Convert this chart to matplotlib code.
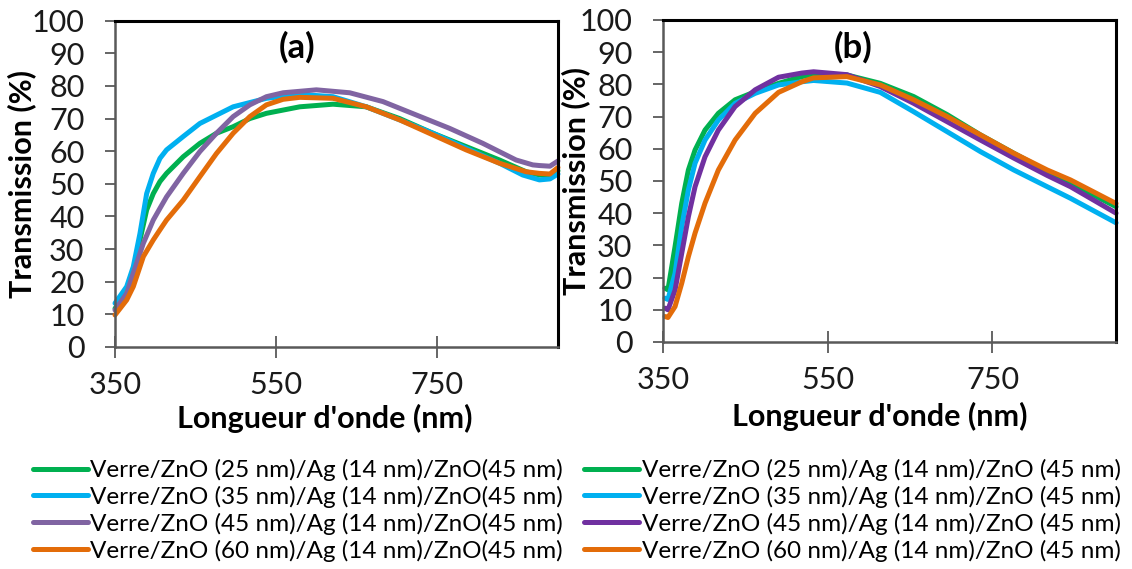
import matplotlib.pyplot as plt

plt.rcParams['font.family'] = ['Lato', 'DejaVu Sans']

# ---- panel (a) data (wavelength nm, transmission %) ----
a_green_x = [350, 364.5, 372.7, 381, 389.3, 397.5, 405.8, 414, 434.7, 455.4, 476, 496.7, 517.4, 538, 579.4,
             620.7, 662, 703.4, 744.7, 786, 827.4, 860.4, 877, 890, 900]
a_green_y = [11.8, 16.4, 22.6, 32.8, 42, 47, 50.7, 53.2, 58.3, 62.4, 65.5, 67.5, 70, 71.6, 73.6,
             74.4, 73.6, 70, 65.5, 61.4, 57.3, 53.7, 52.7, 52.5, 54]

a_cyan_x = [350, 364.5, 372.7, 381, 389.3, 397.5, 405.8, 414, 434.7, 455.4, 496.7, 538, 579.4,
            620.7, 662, 703.4, 744.7, 786, 827.4, 856.3, 877, 890, 900]
a_cyan_y = [13.4, 18.5, 24.6, 34.8, 47, 53.2, 57.8, 60.4, 64.5, 68.5, 73.6, 76.2, 77.4,
            76.7, 73.6, 69.6, 65.5, 60.9, 56.3, 52.7, 51.2, 51.5, 53]

a_purple_x = [350, 364.5, 372.7, 385.2, 397.5, 405.8, 414, 434.7, 455.4, 476, 496.7, 517.4, 538, 558.7,
              600, 641.4, 682.7, 724, 765.4, 806.7, 848, 868.7, 877, 890, 900]
a_purple_y = [11.3, 16.4, 22.6, 31.8, 38.9, 42.5, 46, 53.2, 59.9, 65.5, 70.6, 74.2, 76.7, 77.9,
              78.8, 77.9, 75.2, 71.1, 67, 62.4, 57.3, 55.8, 55.6, 55.4, 57]

a_orange_x = [350, 364.5, 372.7, 385.2, 397.5, 405.8, 414, 434.7, 455.4, 476, 496.7, 517.4, 538, 558.7,
              579.4, 620.7, 662, 703.4, 744.7, 786, 827.4, 860.4, 877, 890, 900]
a_orange_y = [9.8, 14.4, 18.5, 27.7, 32.8, 35.9, 38.9, 45, 52.2, 59.3, 65.5, 70.6, 74.2, 75.9,
              76.5, 76.2, 73.6, 69.6, 65, 60.4, 56.3, 53.7, 53.2, 53, 55]

# ---- panel (b) data ----
b_green_x = [352.4, 356, 364.6, 372.7, 380.8, 388.9, 401, 417.2, 437.5, 461.9, 490.2, 518.6,
             532.8, 573.3, 613.8, 654.3, 694.9, 735.4, 775.9, 816.5, 844.8, 900]
b_green_y = [16.7, 16.2, 29.6, 43, 53.4, 59.6, 65.8, 71, 75.2, 77.7, 80.3, 82.4,
             83, 82.9, 80.3, 76.2, 70.6, 64.3, 58.6, 53, 49.3, 42]

b_cyan_x = [352.4, 356, 364.6, 372.7, 380.8, 388.9, 401, 417.2, 437.5, 461.9, 490.2, 518.6,
            532.8, 573.3, 613.8, 654.3, 694.9, 735.4, 775.9, 816.5, 844.8, 900]
b_cyan_y = [13.6, 13.2, 21.3, 35.8, 47.2, 55.5, 62.7, 68.9, 74.1, 77.2, 79.8, 80.8,
            81.2, 80.4, 77.5, 71.5, 65.3, 59.1, 53.4, 48.2, 44.6, 37]

b_purple_x = [352.4, 356, 364.6, 372.7, 380.8, 388.9, 401, 417.2, 437.5, 461.9, 490.2, 518.6,
              532.8, 573.3, 613.8, 654.3, 694.9, 735.4, 775.9, 816.5, 844.8, 900]
b_purple_y = [10.5, 10, 16.1, 27.5, 38.9, 48.2, 57.5, 65.8, 73.1, 78.3, 82.2, 83.5,
              83.9, 83, 79.3, 74.1, 68.4, 62.7, 57.1, 51.7, 48.2, 40]

b_orange_x = [352.4, 356, 364.6, 372.7, 380.8, 388.9, 401, 417.2, 437.5, 461.9, 490.2, 518.6,
              532.8, 573.3, 613.8, 654.3, 694.9, 735.4, 775.9, 816.5, 844.8, 900]
b_orange_y = [7.9, 7.6, 11, 18.2, 26.5, 33.8, 43.1, 53.4, 62.7, 71, 77.5, 80.8,
              82, 82.4, 79.8, 75.2, 70, 64.3, 58.6, 53.4, 50.3, 43]

labels_a = ['Verre/ZnO (25 nm)/Ag (14 nm)/ZnO(45 nm)',
            'Verre/ZnO (35 nm)/Ag (14 nm)/ZnO(45 nm)',
            'Verre/ZnO (45 nm)/Ag (14 nm)/ZnO(45 nm)',
            'Verre/ZnO (60 nm)/Ag (14 nm)/ZnO(45 nm)']
labels_b = ['Verre/ZnO (25 nm)/Ag (14 nm)/ZnO (45 nm)',
            'Verre/ZnO (35 nm)/Ag (14 nm)/ZnO (45 nm)',
            'Verre/ZnO (45 nm)/Ag (14 nm)/ZnO (45 nm)',
            'Verre/ZnO (60 nm)/Ag (14 nm)/ZnO (45 nm)']

colors_a = ['#00B050', '#00B0F0', '#8064A2', '#E36C09']
colors_b = ['#00B050', '#00B0F0', '#7030A0', '#E36C09']

fig = plt.figure(figsize=(11.32, 5.69), dpi=100)
ax_a = fig.add_axes([0.1016, 0.3902, 0.3913, 0.5735])
ax_b = fig.add_axes([0.5857, 0.399, 0.4002, 0.566])


def style_axes(ax, tag, tag_x, tag_y, ylab_x, xlab_x, xlab_y):
    ax.set_xlim(350, 900)
    ax.set_ylim(0, 100)
    ax.set_xticks([350, 550, 750])
    ax.set_yticks(range(0, 101, 10))
    ax.tick_params(axis='x', direction='inout', length=16, width=1.3, colors='#595959',
                   labelcolor='#1a1a1a', labelsize=22, pad=9)
    ax.tick_params(axis='y', direction='out', length=7, width=1.3, colors='#595959',
                   labelcolor='#1a1a1a', labelsize=22, pad=15)
    for s in ['left', 'bottom']:
        ax.spines[s].set_color('#595959')
        ax.spines[s].set_linewidth(1.8)
    for s in ['top', 'right']:
        ax.spines[s].set_color('black')
        ax.spines[s].set_linewidth(2.2)
    ax.set_xlabel("Longueur d'onde (nm)", fontsize=22, fontweight='bold', va='top')
    ax.xaxis.set_label_coords(xlab_x, xlab_y)
    ax.set_ylabel('Transmission (%)', fontsize=22, fontweight='bold')
    ax.yaxis.set_label_coords(ylab_x, 0.5)
    ax.text(tag_x, tag_y, tag, transform=ax.transAxes, ha='center', va='center',
            fontsize=25, fontweight='bold')


lines_a = []
for xs, ys, c, lab in zip([a_green_x, a_cyan_x, a_purple_x, a_orange_x],
                          [a_green_y, a_cyan_y, a_purple_y, a_orange_y], colors_a, labels_a):
    ln, = ax_a.plot(xs, ys, color=c, lw=3.6, label=lab, solid_joinstyle='round',
                    solid_capstyle='round', clip_on=False)
    lines_a.append(ln)

lines_b = []
for xs, ys, c, lab in zip([b_green_x, b_cyan_x, b_purple_x, b_orange_x],
                          [b_green_y, b_cyan_y, b_purple_y, b_orange_y], colors_b, labels_b):
    ln, = ax_b.plot(xs, ys, color=c, lw=3.6, label=lab, solid_joinstyle='round',
                    solid_capstyle='round', clip_on=False)
    lines_b.append(ln)

style_axes(ax_a, '(a)', 0.41, 0.92, -0.178, 0.474, -0.175)
style_axes(ax_b, '(b)', 0.42, 0.916, -0.16, 0.479, -0.185)

leg_kw = dict(loc='center left', frameon=False, fontsize=17.5, handlelength=2.25,
              handletextpad=0.12, labelspacing=0.2, borderpad=0, borderaxespad=0)
fig.legend(handles=lines_a, bbox_to_anchor=(0.029, 0.103), **leg_kw)
fig.legend(handles=lines_b, bbox_to_anchor=(0.516, 0.103), **leg_kw)

plt.savefig('out.png', dpi=100)
